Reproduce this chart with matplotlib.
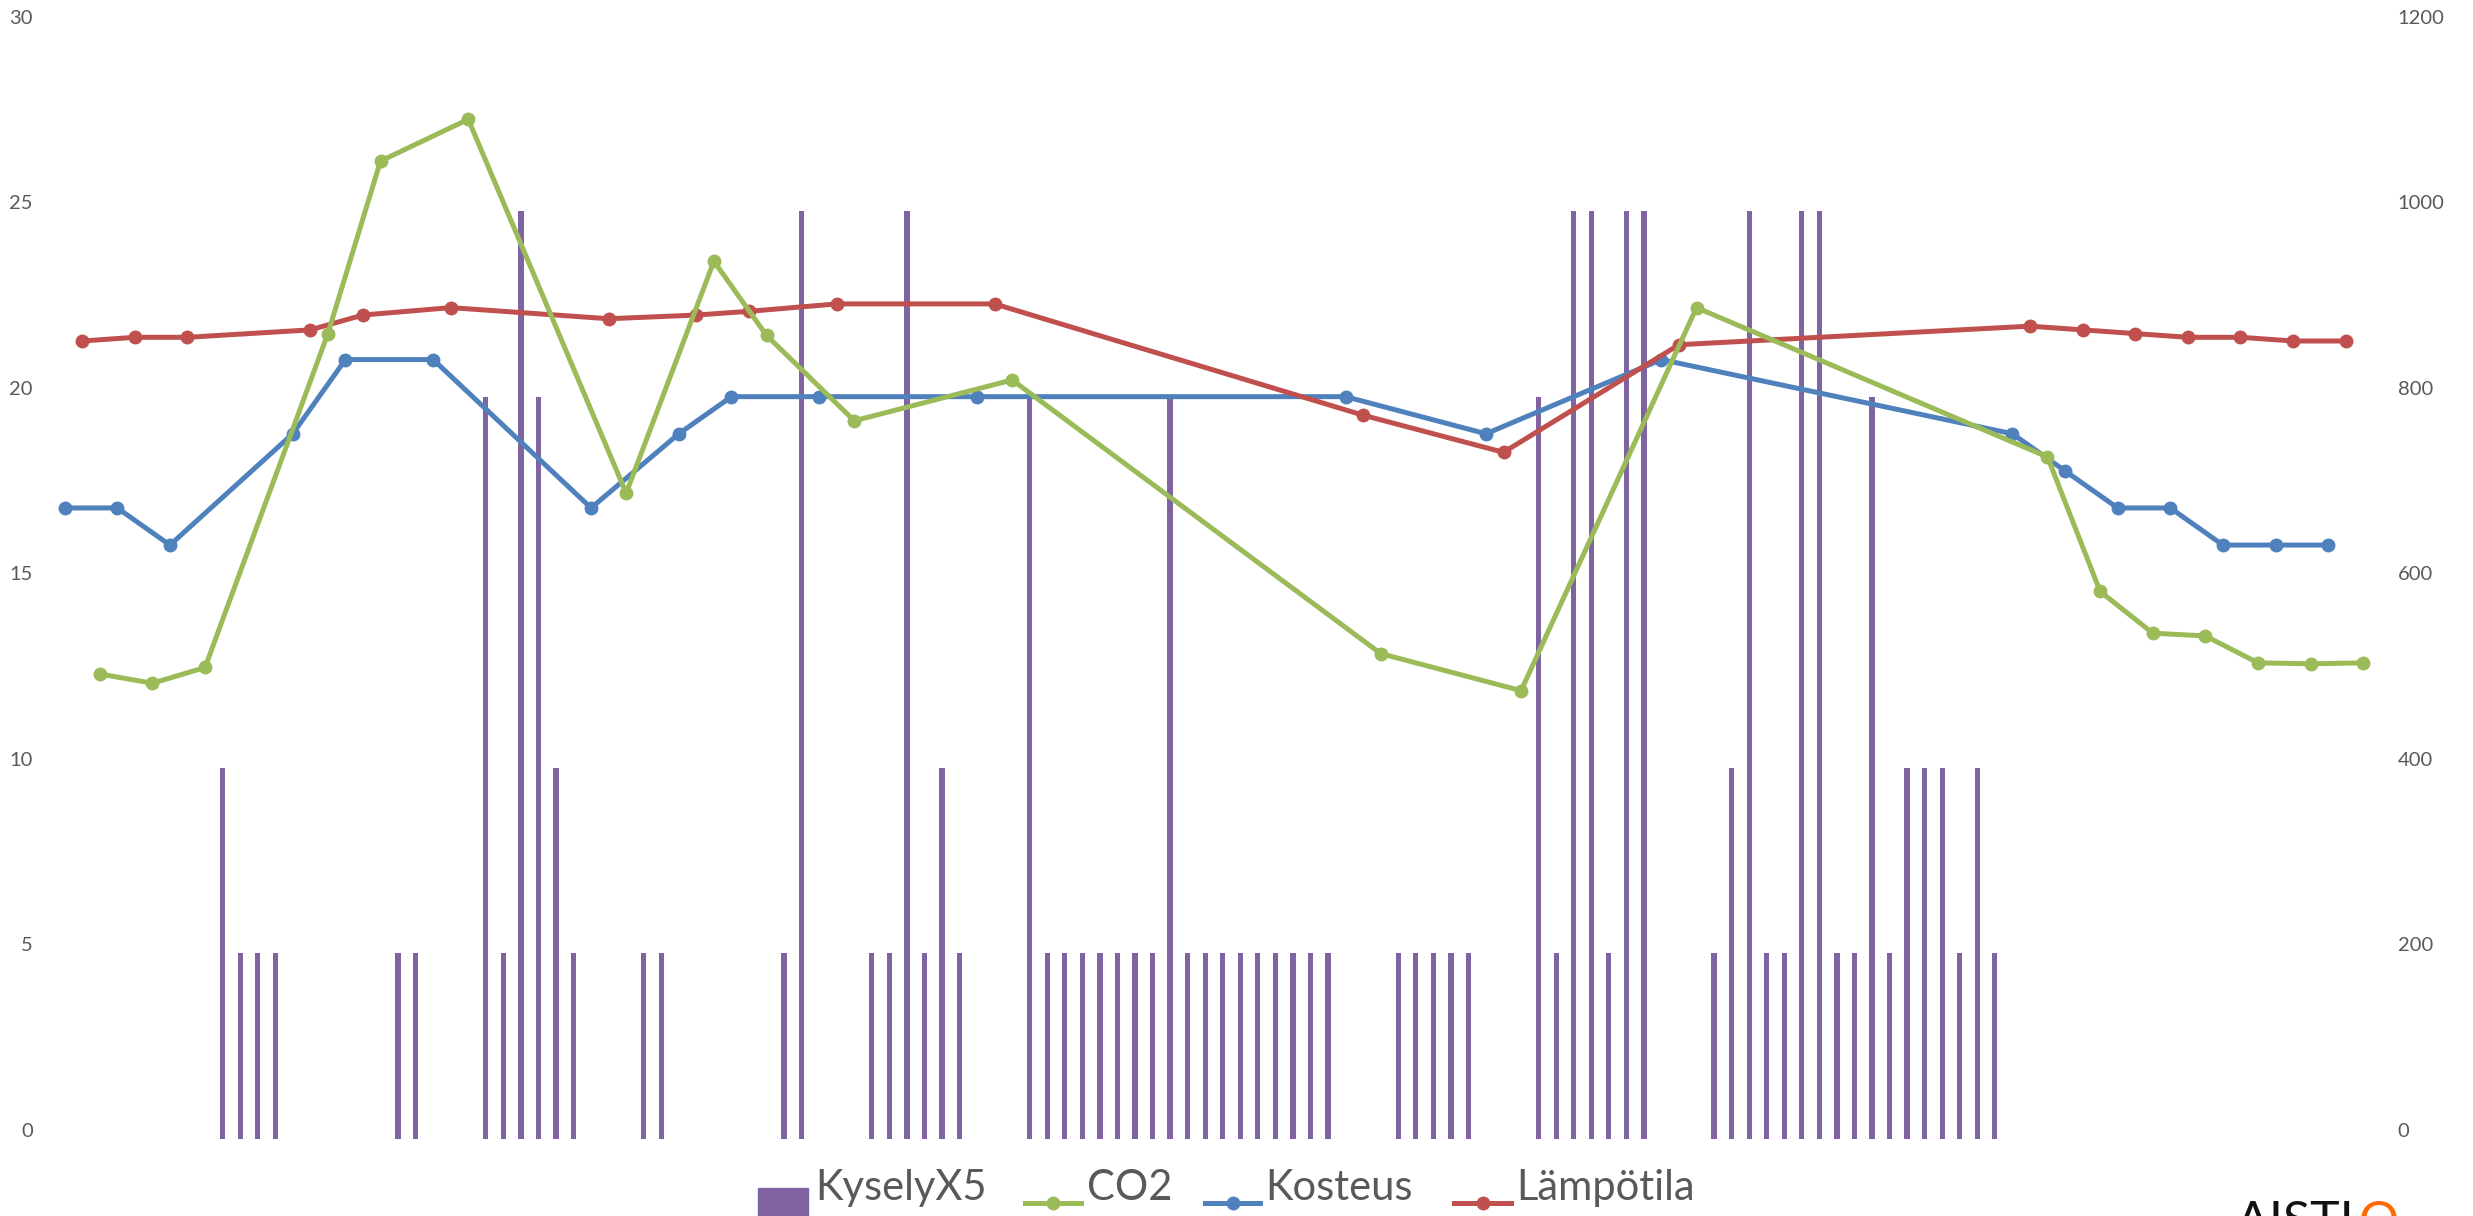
import matplotlib
matplotlib.use("Agg")
import matplotlib.pyplot as plt
from matplotlib.transforms import ScaledTranslation
from matplotlib.patches import Rectangle
from matplotlib.lines import Line2D

plt.rcParams['font.family'] = ['Lato', 'DejaVu Sans']

# ---- data -------------------------------------------------------------
n_rows = 132  # rows of the source sheet (measurements and survey answers)

# survey answers (value x 5)
bar_pos = [9, 10, 11, 12, 19, 20, 24, 25, 26, 27, 28, 29, 33, 34, 41, 42,
           46, 47, 48, 49, 50, 51,
           55, 56, 57, 58, 59, 60, 61, 62, 63, 64, 65, 66, 67, 68, 69, 70, 71, 72,
           76, 77, 78, 79, 80,
           84, 85, 86, 87, 88, 89, 90,
           94, 95, 96, 97, 98, 99, 100, 101, 102, 103, 104, 105, 106, 107, 108, 109, 110]
kysely_x5 = [10, 5, 5, 5, 5, 5, 20, 5, 25, 20, 10, 5, 5, 5, 5, 25,
             5, 5, 25, 5, 10, 5,
             20, 5, 5, 5, 5, 5, 5, 5, 20, 5, 5, 5, 5, 5, 5, 5, 5, 5,
             5, 5, 5, 5, 5,
             20, 5, 25, 25, 5, 25, 25,
             5, 10, 25, 5, 5, 25, 25, 5, 5, 20, 5, 10, 10, 10, 5, 10, 5]

# sensor readings
kosteus_pos = [0, 3, 6, 13, 16, 21, 30, 35, 38, 43, 52, 73, 81, 91,
               111, 114, 117, 120, 123, 126, 129]
kosteus = [17, 17, 16, 19, 21, 21, 17, 19, 20, 20, 20, 20, 19, 21,
           19, 18, 17, 17, 16, 16, 16]

lampotila_pos = [1, 4, 7, 14, 17, 22, 31, 36, 39, 44, 53, 74, 82, 92,
                 112, 115, 118, 121, 124, 127, 130]
lampotila = [21.5, 21.6, 21.6, 21.8, 22.2, 22.4, 22.1, 22.2, 22.3, 22.5, 22.5,
             19.5, 18.5, 21.4, 21.9, 21.8, 21.7, 21.6, 21.6, 21.5, 21.5]

co2_pos = [2, 5, 8, 15, 18, 23, 32, 37, 40, 45, 54, 75, 83, 93,
           113, 116, 119, 122, 125, 128, 131]
co2 = [501, 491, 508, 868, 1054, 1099, 696, 946, 866, 774, 818,
       523, 483, 896, 735, 590, 545, 542, 513, 512, 513]

left_ticks = [0, 5, 10, 15, 20, 25, 30]
right_ticks = [0, 200, 400, 600, 800, 1000, 1200]

series_names = ['KyselyX5', 'CO2', 'Kosteus', 'Lämpötila']
colors = {'KyselyX5': '#8064A2', 'CO2': '#9BBB59',
          'Kosteus': '#4F81BD', 'Lämpötila': '#C0504D'}

# ---- figure -----------------------------------------------------------
W, H, DPI = 2473, 1216, 100
fig = plt.figure(figsize=(W / DPI, H / DPI), dpi=DPI)
ax = fig.add_axes([0.0226, 0.0636, 0.9366, 0.9153])
ax2 = ax.twinx()

ax.bar(bar_pos, kysely_x5, width=0.3, color=colors['KyselyX5'], zorder=1)

line_kw = dict(lw=3.6, marker='o', markersize=9, solid_joinstyle='round',
               solid_capstyle='round')
ax.plot(kosteus_pos, kosteus, color=colors['Kosteus'], zorder=3, **line_kw)
ax.plot(lampotila_pos, lampotila, color=colors['Lämpötila'], zorder=4, **line_kw)
ax2.plot(co2_pos, co2, color=colors['CO2'], zorder=3, **line_kw)

ax.set_xlim(-0.5, n_rows - 0.5)
ax.set_ylim(0, 30)
ax2.set_ylim(0, 1200)
ax.set_xticks([])
ax.set_yticks(left_ticks)
ax2.set_yticks(right_ticks)

for a in (ax, ax2):
    for s in a.spines.values():
        s.set_visible(False)
    a.patch.set_visible(False)

ax.tick_params(axis='y', length=0, pad=16.5, labelsize=14.5, labelcolor='#595959')
ax2.tick_params(axis='y', length=0, pad=18.5, labelsize=14.5, labelcolor='#595959')

# value labels sit a little above their level
shift = ScaledTranslation(0, 0.09, fig.dpi_scale_trans)
for a in (ax, ax2):
    for t in a.yaxis.get_major_ticks():
        t.label1.set_transform(t.label1.get_transform() + shift)
        t.label2.set_transform(t.label2.get_transform() + shift)

# ---- legend along the bottom edge -------------------------------------
def fx(px):
    return px / W

def fy(py):
    return (H - py) / H

text_kw = dict(fontsize=30, color='#595959', va='baseline', ha='left')
fig.add_artist(Rectangle((fx(758), fy(1232)), fx(808) - fx(758), fy(1188) - fy(1232),
                         transform=fig.transFigure, color=colors['KyselyX5'],
                         clip_on=False))
fig.text(fx(815), fy(1200), series_names[0], **text_kw)

handles = [('CO2', 1025, 1081, 1087), ('Kosteus', 1205, 1260, 1265),
           ('Lämpötila', 1454, 1511, 1516)]
for name, x0, x1, xt in handles:
    fig.add_artist(Line2D([fx(x0), fx(x1)], [fy(1203), fy(1203)],
                          transform=fig.transFigure, color=colors[name], lw=3.6))
    fig.add_artist(Line2D([fx((x0 + x1) / 2)], [fy(1203)], transform=fig.transFigure,
                          color=colors[name], marker='o', markersize=9))
    fig.text(fx(xt), fy(1200), name, **text_kw)

# brand mark in the corner
fig.text(fx(2355), fy(1237), 'AISTI', fontsize=36, color='#111111',
         ha='right', va='baseline')
fig.text(fx(2359), fy(1237), 'O', fontsize=36, color='#FF6A00',
         ha='left', va='baseline')

fig.savefig('out.png', dpi=DPI)
